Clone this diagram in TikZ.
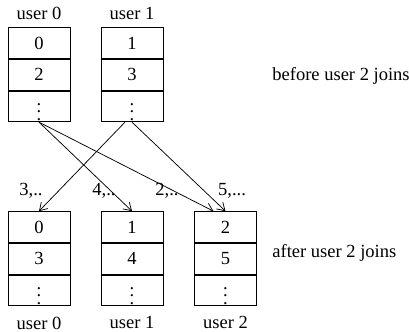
\documentclass[tikz,border=0pt]{standalone}
\usepackage{fontspec}
\setmainfont{Liberation Serif}
\usetikzlibrary{positioning,arrows.meta}
\begin{document}
\begin{tikzpicture}[x=0.54pt,y=-0.54pt,
    >={Straight Barb[length=4pt,width=5pt]},
    cell/.style={draw, minimum width=33.5pt, minimum height=16.7pt, inner sep=0pt},
    lbl/.style={inner sep=0pt}]
    \useasboundingbox (0,0) rectangle (409,331);
    % before user 2 joins
    \node[cell] (a0) at (39,43) {0};
    \node[cell, below=0pt of a0] (a1) {2};
    \node[cell, below=0pt of a1] (a2) {$\vdots$};
    \node[cell] (b0) at (132,43) {1};
    \node[cell, below=0pt of b0] (b1) {3};
    \node[cell, below=0pt of b1] (b2) {$\vdots$};
    \node[lbl, above=3.8pt of a0] (ua) {user 0};
    \node[lbl, above=3.8pt of b0] (ub) {user 1};
    \node[lbl, anchor=west] (before) at (272,76) {before user 2 joins};
    % after user 2 joins
    \node[cell] (d0) at (39,227) {0};
    \node[cell, below=0pt of d0] (d1) {3};
    \node[cell, below=0pt of d1] (d2) {$\vdots$};
    \node[cell] (e0) at (132,227) {1};
    \node[cell, below=0pt of e0] (e1) {4};
    \node[cell, below=0pt of e1] (e2) {$\vdots$};
    \node[cell] (f0) at (225.5,227) {2};
    \node[cell, below=0pt of f0] (f1) {5};
    \node[cell, below=0pt of f1] (f2) {$\vdots$};
    \node[lbl, below=5.5pt of d2] (ud) {user 0};
    \node[lbl, below=5.5pt of e2] (ue) {user 1};
    \node[lbl, below=5.5pt of f2] (uf) {user 2};
    \node[lbl, anchor=west] (after) at (272,253) {after user 2 joins};
    % moves
    \draw[->] (a2.south) -- (e0.north);
    \draw[->] (a2.south) -- ([xshift=-6.5pt]f0.north);
    \draw[->] ([xshift=-3.8pt]b2.south) -- (d0.north);
    \draw[->] (b2.south) -- (f0.north);
    \node[lbl] (m3) at (31,191) {3,..};
    \node[lbl] (m4) at (104,191) {4,..};
    \node[lbl] (m2) at (167,191) {2,..};
    \node[lbl] (m5) at (232,191) {5,...};
\end{tikzpicture}
\end{document}
